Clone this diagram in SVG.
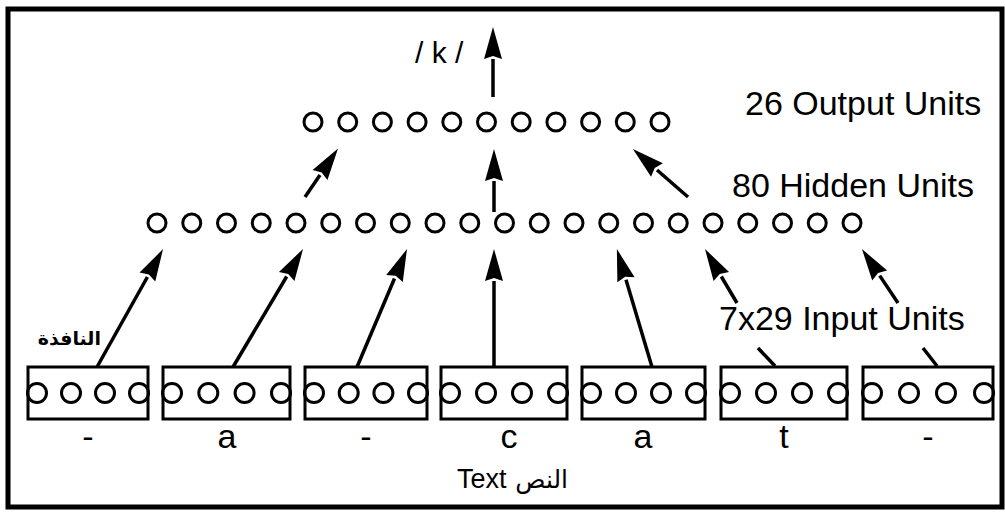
<svg xmlns="http://www.w3.org/2000/svg" width="1005" height="512" viewBox="0 0 1005 512">
<style>
.u{fill:#fff;stroke:#000;stroke-width:3}
.box{fill:none;stroke:#000;stroke-width:3}
.ln{stroke:#000;stroke-width:3.5;fill:none}
.ar{stroke:#000;stroke-width:3.5;fill:none;marker-end:url(#ah)}
.t{font-family:"Liberation Sans",Arial,sans-serif;fill:#000}
.ab{font-family:"DejaVu Sans","Noto Sans",sans-serif;fill:#000}
</style>
<defs>
<marker id="ah" markerUnits="userSpaceOnUse" markerWidth="36" markerHeight="20" refX="0" refY="9" orient="auto" overflow="visible">
<path d="M0,0 L32,9 L0,18 L3,9 Z" fill="#000"/>
</marker>
</defs>
<rect x="8" y="9" width="994" height="498" fill="#fff" stroke="#000" stroke-width="5"/>

<g id="output-layer">
<circle class="u" cx="313" cy="122" r="9"/><circle class="u" cx="347.7" cy="122" r="9"/><circle class="u" cx="382.4" cy="122" r="9"/><circle class="u" cx="417.1" cy="122" r="9"/><circle class="u" cx="451.8" cy="122" r="9"/><circle class="u" cx="486.5" cy="122" r="9"/><circle class="u" cx="521.2" cy="122" r="9"/><circle class="u" cx="555.9" cy="122" r="9"/><circle class="u" cx="590.6" cy="122" r="9"/><circle class="u" cx="625.3" cy="122" r="9"/><circle class="u" cx="660" cy="122" r="9"/>
<text class="t" x="745" y="115" font-size="34">26 Output Units</text>
</g>

<g id="hidden-layer">
<circle class="u" cx="157" cy="223" r="9"/><circle class="u" cx="191.75" cy="223" r="9"/><circle class="u" cx="226.5" cy="223" r="9"/><circle class="u" cx="261.25" cy="223" r="9"/><circle class="u" cx="296" cy="223" r="9"/><circle class="u" cx="330.75" cy="223" r="9"/><circle class="u" cx="365.5" cy="223" r="9"/><circle class="u" cx="400.25" cy="223" r="9"/><circle class="u" cx="435" cy="223" r="9"/><circle class="u" cx="469.75" cy="223" r="9"/><circle class="u" cx="504.5" cy="223" r="9"/><circle class="u" cx="539.25" cy="223" r="9"/><circle class="u" cx="574" cy="223" r="9"/><circle class="u" cx="608.75" cy="223" r="9"/><circle class="u" cx="643.5" cy="223" r="9"/><circle class="u" cx="678.25" cy="223" r="9"/><circle class="u" cx="713" cy="223" r="9"/><circle class="u" cx="747.75" cy="223" r="9"/><circle class="u" cx="782.5" cy="223" r="9"/><circle class="u" cx="817.25" cy="223" r="9"/><circle class="u" cx="852" cy="223" r="9"/>
<text class="t" x="732" y="197" font-size="34">80 Hidden Units</text>
</g>

<g id="input-label">
<text class="t" x="719" y="330" font-size="34">7x29 Input Units</text>
</g>

<g id="window-label">
<text class="ab" x="101" y="345" font-size="19" font-weight="bold" text-anchor="end">النافذة</text>
</g>

<g id="output-label">
<text class="t" x="415" y="63" font-size="30">/ k /</text>
</g>

<g id="box1"><circle class="u" cx="37" cy="393" r="9.5"/><circle class="u" cx="71" cy="393" r="9.5"/><circle class="u" cx="105" cy="393" r="9.5"/><circle class="u" cx="139" cy="393" r="9.5"/><rect class="box" x="28" y="367" width="120" height="52"/><text class="t" x="88" y="448" font-size="34" text-anchor="middle">-</text></g>
<g id="box2"><circle class="u" cx="172" cy="393" r="9.5"/><circle class="u" cx="208.3" cy="393" r="9.5"/><circle class="u" cx="244.6" cy="393" r="9.5"/><circle class="u" cx="281" cy="393" r="9.5"/><rect class="box" x="163" y="367" width="127" height="52"/><text class="t" x="227" y="448" font-size="34" text-anchor="middle">a</text></g>
<g id="box3"><circle class="u" cx="314" cy="393" r="9.5"/><circle class="u" cx="348.7" cy="393" r="9.5"/><circle class="u" cx="383.4" cy="393" r="9.5"/><circle class="u" cx="418" cy="393" r="9.5"/><rect class="box" x="305" y="367" width="122" height="52"/><text class="t" x="366" y="448" font-size="34" text-anchor="middle">-</text></g>
<g id="box4"><circle class="u" cx="450" cy="393" r="9.5"/><circle class="u" cx="486" cy="393" r="9.5"/><circle class="u" cx="522" cy="393" r="9.5"/><circle class="u" cx="558" cy="393" r="9.5"/><rect class="box" x="441" y="367" width="126" height="52"/><text class="t" x="509" y="448" font-size="34" text-anchor="middle">c</text></g>
<g id="box5"><circle class="u" cx="591" cy="393" r="9.5"/><circle class="u" cx="626" cy="393" r="9.5"/><circle class="u" cx="661" cy="393" r="9.5"/><circle class="u" cx="696" cy="393" r="9.5"/><rect class="box" x="582" y="367" width="123" height="52"/><text class="t" x="643" y="448" font-size="34" text-anchor="middle">a</text></g>
<g id="box6"><circle class="u" cx="730" cy="393" r="9.5"/><circle class="u" cx="766" cy="393" r="9.5"/><circle class="u" cx="802" cy="393" r="9.5"/><circle class="u" cx="838" cy="393" r="9.5"/><rect class="box" x="721" y="367" width="126" height="52"/><text class="t" x="784" y="448" font-size="34" text-anchor="middle">t</text></g>
<g id="box7"><circle class="u" cx="872" cy="393" r="9.5"/><circle class="u" cx="909" cy="393" r="9.5"/><circle class="u" cx="946" cy="393" r="9.5"/><circle class="u" cx="984" cy="393" r="9.5"/><rect class="box" x="863" y="367" width="130" height="52"/><text class="t" x="928" y="448" font-size="34" text-anchor="middle">-</text></g>

<g id="text-label">
<text class="t" x="457" y="488" font-size="27">Text</text>
<text class="ab" x="568" y="488" font-size="25" text-anchor="end">النص</text>
</g>

<g id="connectors">
<line class="ar" x1="493" y1="97" x2="493" y2="59"/>
<line class="ar" x1="305" y1="197" x2="320" y2="175"/>
<line class="ar" x1="494" y1="212" x2="494" y2="181"/>
<line class="ar" x1="688" y1="197" x2="657" y2="170"/>
<line class="ar" x1="97" y1="367" x2="147.4" y2="277"/>
<line class="ar" x1="233" y1="367" x2="286.7" y2="276.5"/>
<line class="ar" x1="357" y1="367" x2="394.5" y2="278.5"/>
<line class="ar" x1="494" y1="367" x2="494" y2="281"/>
<line class="ar" x1="652" y1="367" x2="626" y2="279.7"/>
<line class="ar" x1="737" y1="303" x2="721.3" y2="276.5"/>
<line class="ar" x1="898" y1="303" x2="879.7" y2="275.6"/>
<line class="ln" x1="775" y1="366" x2="758" y2="348"/>
<line class="ln" x1="937" y1="366" x2="923" y2="348"/>
</g>
</svg>
